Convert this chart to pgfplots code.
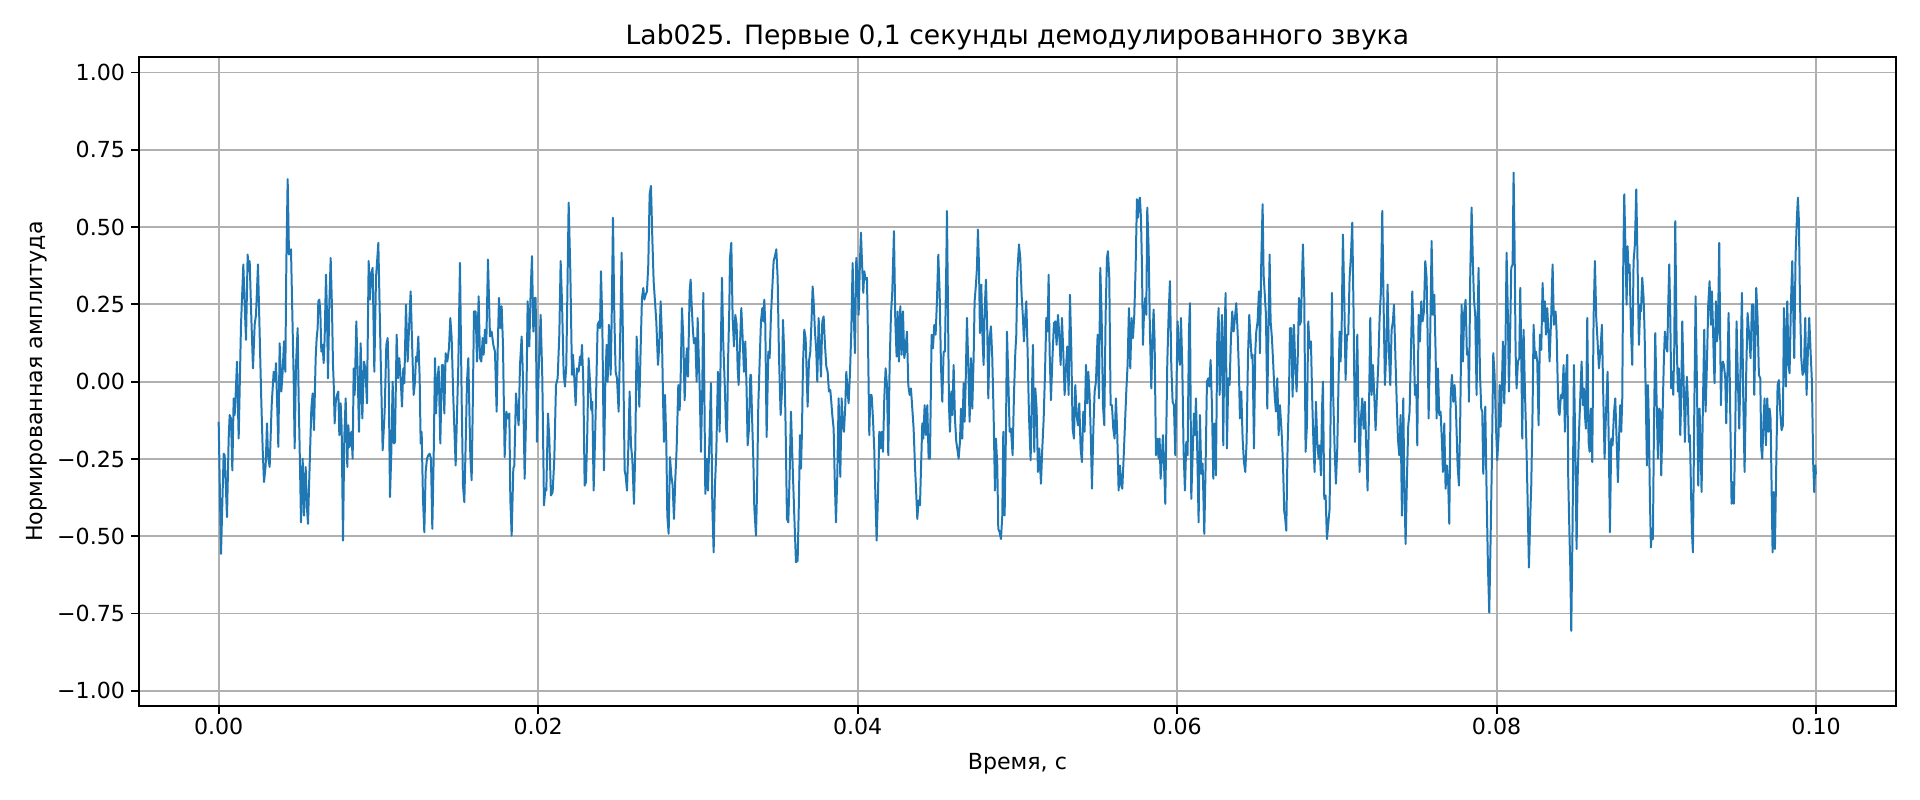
\documentclass[border=0pt]{standalone}
\usepackage{pgfplots}
\pgfplotsset{compat=1.18}
\usepackage{fontspec}
\setmainfont{DejaVu Sans}
\definecolor{mplblue}{RGB}{31,119,180}
\definecolor{gridgray}{HTML}{B0B0B0}
\begin{document}
\begin{tikzpicture}
\begin{axis}[
  scale only axis, width=10.983in, height=4.059in,
  xmin=-5, xmax=105, ymin=-1.05, ymax=1.05,
  xtick={0,20,40,60,80,100},
  xticklabels={0.00,0.02,0.04,0.06,0.08,0.10},
  ytick={-1,-0.75,-0.5,-0.25,0,0.25,0.5,0.75,1},
  yticklabels={−1.00,−0.75,−0.50,−0.25,0.00,0.25,0.50,0.75,1.00},
  tick label style={font=\fontsize{10}{12}\selectfont},
  xticklabel style={anchor=base, yshift=-9pt},
  yticklabel style={anchor=east, xshift=0.8pt},
  grid=major, major grid style={color=gridgray, line width=0.8pt},
  axis line style={line width=0.8pt},
  tick style={black, line width=0.8pt}, tick align=outside, major tick length=3.5pt,
  tick pos=left,
  title={Lab025. Первые 0,1 секунды демодулированного звука},
  title style={font=\fontsize{12}{14}\selectfont, at={(axis description cs:0.5,0.9986)}, anchor=base},
  xlabel={Время, с},
  xlabel style={font=\fontsize{10}{12}\selectfont, at={(axis description cs:0.5,-0.0979)}, anchor=base},
  ylabel={Нормированная амплитуда},
  ylabel style={font=\fontsize{10}{12}\selectfont, at={(axis description cs:-0.0549,0.5)}, anchor=base, rotate=0},
]
\addplot[color=mplblue, line width=0.9pt, line join=round, no markers] table {
t v
0 -0.130
0.146 -0.557
0.313 -0.233
0.376 -0.238
0.522 -0.438
0.626 -0.184
0.689 -0.108
0.772 -0.119
0.856 -0.287
0.939 -0.054
1.002 -0.108
1.064 -0.043
1.148 0.065
1.252 -0.184
1.398 0.184
1.544 0.379
1.628 0.249
1.711 0.135
1.815 0.411
1.878 0.357
1.941 0.390
2.045 0.206
2.149 0.043
2.254 0.184
2.337 0.216
2.462 0.379
2.608 0.065
2.671 -0.065
2.754 -0.216
2.838 -0.325
2.942 -0.271
3.026 -0.135
3.088 -0.238
3.192 -0.276
3.318 -0.076
3.443 0.032
3.526 0
3.589 0.060
3.652 -0.054
3.735 -0.211
3.818 0.124
3.923 -0.032
4.006 0.032
4.090 0.130
4.173 0.032
4.236 0.379
4.319 0.655
4.403 0.411
4.465 0.422
4.528 0.428
4.591 0.271
4.695 0.011
4.757 -0.216
4.841 0.054
4.945 0.173
5.008 -0.054
5.091 -0.271
5.154 -0.455
5.258 -0.249
5.342 -0.433
5.446 -0.276
5.530 -0.411
5.592 -0.460
5.696 -0.271
5.801 -0.087
5.884 -0.038
5.968 -0.157
6.072 0.076
6.135 0.141
6.197 0.173
6.239 0.260
6.302 0.265
6.364 0.227
6.427 0.097
6.510 0.119
6.573 0.060
6.635 0.141
6.719 0.346
6.781 0.216
6.844 0.011
6.927 0.249
7.011 0.400
7.094 0.238
7.157 0.054
7.199 0
7.261 -0.135
7.324 -0.070
7.407 -0.043
7.491 -0.032
7.553 -0.173
7.637 -0.070
7.700 -0.152
7.783 -0.514
7.866 -0.179
7.950 -0.054
8.054 -0.276
8.117 -0.141
8.200 -0.211
8.305 -0.162
8.388 -0.249
8.451 0.043
8.513 -0.043
8.618 0.195
8.701 0.032
8.785 -0.162
8.889 0.124
8.993 -0.119
9.098 0.065
9.181 0.043
9.285 -0.070
9.390 0.390
9.473 0.265
9.536 0.346
9.640 0.368
9.744 0.032
9.849 0.336
9.932 0.400
9.995 0.449
10.120 0.130
10.266 -0.222
10.391 -0.097
10.496 0.119
10.579 0.141
10.642 0.022
10.725 -0.373
10.809 -0.227
10.892 0
10.975 -0.200
11.038 -0.195
11.079 -0.054
11.142 0.152
11.225 0.011
11.309 0.076
11.392 0.011
11.476 -0.081
11.559 0.043
11.622 -0.005
11.726 0.249
11.831 0.065
11.935 0.195
12.018 0.292
12.123 0.097
12.206 -0.043
12.290 0
12.352 0.081
12.415 0.065
12.498 0.146
12.582 0.011
12.644 -0.200
12.707 -0.162
12.790 -0.379
12.874 -0.487
12.957 -0.292
13.041 -0.249
13.124 -0.238
13.208 -0.233
13.291 -0.249
13.375 -0.476
13.458 -0.249
13.542 0.076
13.604 -0.103
13.688 0
13.771 0.049
13.875 -0.200
13.980 0.054
14.042 0.054
14.126 -0.103
14.209 0.092
14.313 0.065
14.418 0.108
14.501 0.206
14.585 0.141
14.689 -0.054
14.835 -0.271
15.002 0.054
15.106 0.384
15.211 -0.054
15.294 -0.336
15.378 -0.390
15.461 -0.206
15.545 0
15.628 0.076
15.753 -0.238
15.837 -0.319
15.899 -0.108
15.983 0.227
16.087 0.227
16.171 0.065
16.275 0.276
16.358 0.076
16.442 0.065
16.525 0.141
16.588 0.087
16.671 0.168
16.755 0.124
16.859 0.395
16.984 0.146
17.089 0.162
17.193 0.119
17.297 0.097
17.402 -0.097
17.464 0.097
17.548 0.271
17.631 0.173
17.715 0.244
17.798 0.119
17.903 -0.244
18.007 -0.097
18.111 -0.119
18.195 -0.103
18.258 -0.379
18.341 -0.498
18.445 -0.281
18.508 -0.271
18.612 -0.038
18.696 -0.097
18.779 -0.141
18.863 0.054
18.967 0.146
19.050 0.011
19.155 -0.314
19.259 -0.076
19.342 0.260
19.447 0.114
19.530 0.292
19.614 0.406
19.697 0.162
19.781 0.271
19.843 0.271
19.927 -0.195
20.031 0.032
20.156 0.216
20.260 0.011
20.365 -0.400
20.448 -0.346
20.511 -0.352
20.615 -0.103
20.699 -0.184
20.803 -0.368
20.907 -0.357
21.012 -0.249
21.116 -0.011
21.220 0.011
21.325 0.152
21.408 0.390
21.492 0.260
21.596 0.027
21.679 -0.016
21.763 0.054
21.846 0.346
21.909 0.579
22.013 0.357
22.118 0.022
22.180 0.087
22.263 0.011
22.347 -0.076
22.430 0.043
22.534 0.032
22.618 0.081
22.680 0.054
22.743 0.119
22.827 0
22.910 -0.336
22.993 -0.325
23.077 -0.162
23.160 0.076
23.244 0
23.327 -0.092
23.390 -0.065
23.473 -0.352
23.557 -0.195
23.640 -0.011
23.724 0.184
23.807 0.195
23.870 0.173
23.932 0.357
24.016 0.195
24.120 -0.287
24.204 0
24.287 0.119
24.350 0
24.433 0.184
24.538 0.022
24.600 0.195
24.684 0.530
24.767 0.216
24.850 0.032
24.934 0.011
25.038 -0.097
25.122 0.108
25.226 0.417
25.310 0.130
25.414 -0.287
25.476 -0.303
25.560 -0.352
25.643 -0.216
25.727 -0.032
25.810 -0.206
25.894 -0.249
25.998 -0.395
26.082 -0.216
26.165 0.146
26.249 0.043
26.332 -0.081
26.416 0.108
26.499 0.271
26.583 0.303
26.645 0.265
26.728 0.281
26.812 0.292
26.895 0.379
26.979 0.606
27.062 0.633
27.146 0.465
27.229 0.325
27.313 0.260
27.396 0.195
27.501 0.054
27.584 0.119
27.668 0.260
27.751 0.141
27.813 -0.043
27.876 -0.195
27.939 -0.043
28.022 -0.195
28.085 -0.433
28.168 -0.492
28.252 -0.244
28.335 -0.303
28.419 -0.336
28.502 -0.444
28.586 -0.314
28.669 -0.216
28.773 -0.011
28.857 -0.092
28.920 0.011
29.003 0.238
29.087 0.141
29.170 -0.060
29.253 0.065
29.316 0.108
29.379 0.016
29.483 0.292
29.546 0.330
29.608 0.249
29.692 0.162
29.754 0.124
29.838 0.141
29.921 0
29.984 0.206
30.047 0.087
30.109 -0.011
30.193 -0.227
30.276 -0.016
30.339 0.287
30.401 -0.011
30.464 -0.363
30.547 -0.249
30.631 -0.352
30.735 -0.162
30.818 -0.005
30.902 -0.400
30.985 -0.552
31.069 -0.336
31.152 -0.227
31.256 0.032
31.361 -0.162
31.423 0.076
31.507 0.336
31.590 0.119
31.674 0
31.757 -0.141
31.820 -0.195
31.882 0.054
31.966 0.238
32.008 0.400
32.091 0.449
32.175 0.206
32.258 0.114
32.342 0.216
32.425 0.184
32.488 0.043
32.550 -0.011
32.634 0.119
32.717 0.238
32.801 0.141
32.884 0.032
32.968 0.130
33.051 -0.032
33.114 -0.206
33.197 -0.152
33.281 0.022
33.322 0.022
33.405 -0.141
33.468 -0.249
33.530 -0.406
33.635 -0.498
33.697 -0.368
33.781 -0.076
33.885 0.097
33.948 0.195
34.031 0.238
34.094 0.195
34.156 0.265
34.219 0.184
34.302 -0.179
34.407 0.097
34.490 0.076
34.574 0.216
34.657 0.303
34.741 0.390
34.824 0.406
34.908 0.428
34.991 0.336
35.074 0.087
35.179 -0.108
35.262 -0.032
35.325 0.200
35.408 0.087
35.492 -0.152
35.575 -0.444
35.659 -0.455
35.742 -0.303
35.825 -0.097
35.930 -0.271
36.034 -0.433
36.139 -0.584
36.243 -0.579
36.326 -0.379
36.389 -0.173
36.452 -0.281
36.514 -0.162
36.577 0.054
36.660 0.168
36.744 0.141
36.806 0.032
36.869 -0.081
36.952 0.065
37.036 0.097
37.119 0.206
37.182 0.308
37.245 0.260
37.328 0.162
37.411 0.097
37.474 0
37.558 0.206
37.641 0.097
37.704 0.016
37.787 0.195
37.871 0.211
37.954 0.119
38.038 0.049
38.121 0.032
38.204 -0.032
38.288 -0.027
38.350 -0.065
38.413 -0.108
38.497 -0.152
38.559 -0.303
38.643 -0.455
38.726 -0.303
38.809 -0.054
38.914 -0.308
38.997 -0.054
39.081 -0.141
39.143 -0.162
39.227 -0.076
39.289 0.032
39.373 -0.032
39.435 -0.070
39.519 0.027
39.602 0.162
39.686 0.384
39.748 0.227
39.832 0.092
39.915 0.400
39.999 0.346
40.062 0.216
40.145 0.390
40.207 0.482
40.270 0.390
40.354 0.287
40.416 0.357
40.500 0.330
40.583 0.336
40.646 0.141
40.729 -0.173
40.792 -0.043
40.875 -0.043
40.959 -0.119
41.042 -0.222
41.126 -0.400
41.188 -0.514
41.272 -0.368
41.355 -0.162
41.439 -0.216
41.501 -0.162
41.585 -0.227
41.668 -0.054
41.751 0.043
41.835 -0.011
41.918 -0.238
42.002 0.054
42.085 0.216
42.169 0.292
42.273 0.487
42.357 0.195
42.440 0.081
42.503 0.227
42.586 0.065
42.670 0.244
42.753 0.087
42.837 0.227
42.920 0.076
43.003 0.108
43.087 0.162
43.170 -0.011
43.254 -0.043
43.337 -0.022
43.421 -0.087
43.504 -0.152
43.588 -0.271
43.650 -0.341
43.734 -0.444
43.817 -0.384
43.901 -0.400
43.984 -0.249
44.047 -0.135
44.109 -0.184
44.193 -0.076
44.276 -0.173
44.360 -0.076
44.443 -0.249
44.526 -0.249
44.631 0.152
44.714 0.108
44.798 0.184
44.881 0.152
44.964 0.260
45.048 0.411
45.131 0.292
45.215 0.054
45.298 -0.065
45.382 0.097
45.465 0.097
45.549 0.379
45.590 0.552
45.653 0.249
45.716 -0.076
45.778 -0.162
45.862 -0.032
45.924 -0.108
46.008 0.054
46.091 -0.119
46.175 -0.195
46.237 -0.216
46.321 -0.249
46.404 -0.195
46.467 -0.087
46.550 -0.184
46.634 -0.005
46.696 -0.130
46.759 -0.011
46.843 0.206
46.926 0.054
47.009 -0.130
47.093 0.076
47.176 -0.087
47.260 0.076
47.322 0.260
47.406 0.314
47.468 0.368
47.531 0.492
47.594 0.379
47.656 0.157
47.740 0.314
47.823 0.130
47.886 0.054
47.948 0.227
48.032 0.330
48.115 0.162
48.178 -0.054
48.261 0.141
48.345 0.179
48.428 0.076
48.512 -0.108
48.595 -0.352
48.658 -0.184
48.741 -0.271
48.804 -0.476
48.887 -0.487
48.971 -0.509
49.054 -0.433
49.117 -0.162
49.200 -0.433
49.284 -0.162
49.346 0.162
49.430 0.011
49.513 -0.162
49.597 -0.152
49.701 -0.238
49.785 -0.043
49.868 0.092
49.931 0.152
49.993 0.346
50.098 0.444
50.181 0.400
50.264 0.281
50.348 0.206
50.411 0.130
50.473 0.195
50.557 0.260
50.640 0.097
50.724 -0.108
50.828 -0.254
50.911 -0.032
50.974 0.119
51.057 -0.227
51.120 -0.022
51.203 -0.087
51.287 -0.292
51.370 -0.216
51.475 -0.330
51.558 -0.216
51.642 -0.124
51.725 0.022
51.809 0.206
51.892 0.162
51.955 0.346
52.017 0.097
52.101 -0.060
52.184 0.065
52.288 0.189
52.372 0.195
52.455 0.119
52.539 0.216
52.622 0.152
52.706 0.054
52.789 0.206
52.873 0.097
52.956 -0.043
53.040 0.043
53.123 0.114
53.207 -0.043
53.290 0.281
53.373 0.108
53.457 -0.152
53.540 -0.184
53.624 -0.011
53.707 -0.108
53.791 -0.141
53.874 -0.070
53.958 -0.216
54.041 -0.260
54.125 -0.097
54.208 -0.162
54.292 0.054
54.375 -0.070
54.438 0.032
54.521 -0.043
54.605 -0.195
54.667 -0.346
54.751 -0.162
54.834 -0.032
54.918 0
55.022 0.152
55.105 -0.054
55.189 0.368
55.272 0.216
55.356 -0.076
55.439 -0.141
55.523 0.216
55.606 0.400
55.668 0.422
55.752 0.336
55.835 -0.076
55.919 -0.076
56.002 -0.152
56.086 -0.184
56.169 -0.054
56.253 -0.173
56.336 -0.352
56.419 -0.271
56.503 -0.336
56.566 -0.346
56.649 -0.249
56.732 -0.141
56.816 -0.032
56.899 0.054
56.983 0.238
57.066 0.043
57.150 0.206
57.233 0.141
57.317 0.216
57.400 0.368
57.484 0.590
57.546 0.530
57.609 0.584
57.671 0.595
57.734 0.530
57.797 0.379
57.859 0.119
57.922 0.216
58.005 0.271
58.068 0.216
58.130 0.563
58.214 0.433
58.297 0.162
58.381 -0.022
58.464 0.152
58.527 0.233
58.590 0.130
58.673 -0.238
58.756 -0.184
58.840 -0.249
58.903 -0.184
58.965 -0.314
59.049 -0.238
59.111 -0.173
59.195 -0.292
59.257 -0.395
59.320 -0.162
59.383 0.060
59.466 0.216
59.549 0.325
59.633 0.054
59.716 -0.065
59.800 -0.076
59.883 -0.238
59.967 0.011
60.029 0.195
60.113 0.076
60.175 0.054
60.238 0.206
60.321 0.054
60.405 -0.227
60.488 -0.352
60.572 -0.195
60.655 -0.238
60.739 0.162
60.801 0.254
60.885 -0.379
60.968 -0.238
61.052 -0.103
61.114 -0.173
61.177 -0.054
61.260 -0.227
61.344 -0.455
61.427 -0.108
61.511 -0.298
61.594 -0.265
61.699 -0.492
61.782 -0.271
61.866 0
61.949 0.011
62.012 -0.016
62.095 0.070
62.178 -0.076
62.262 -0.314
62.345 -0.135
62.429 -0.303
62.512 0.141
62.596 0.238
62.658 -0.043
62.721 0.054
62.804 0.216
62.888 -0.206
62.950 0.119
63.034 0.287
63.117 -0.216
63.201 0.011
63.284 -0.011
63.368 0.141
63.451 0.227
63.535 0.162
63.618 0.206
63.701 0.254
63.785 0.162
63.868 0.032
63.931 -0.119
64.015 -0.032
64.098 -0.184
64.181 -0.260
64.265 -0.292
64.348 -0.195
64.432 0.076
64.515 0.216
64.599 0.130
64.662 0.076
64.724 0.087
64.808 -0.216
64.891 0.097
64.954 0.162
65.037 0.195
65.120 0.292
65.183 0.092
65.267 0.390
65.350 0.574
65.413 0.346
65.475 0.292
65.559 0.216
65.642 -0.087
65.726 0.206
65.788 0.411
65.851 0.195
65.934 0.141
66.018 0.054
66.101 -0.043
66.185 -0.097
66.268 0.011
66.352 -0.173
66.435 -0.076
66.539 -0.162
66.623 -0.260
66.706 -0.422
66.748 -0.433
66.831 -0.482
66.915 -0.206
66.998 -0.054
67.061 0.173
67.144 0.173
67.228 -0.049
67.311 0.184
67.395 0.054
67.478 -0.032
67.561 0.097
67.624 0.271
67.687 0.184
67.749 0.195
67.812 0.325
67.874 0.444
67.958 0.271
68.041 -0.227
68.125 -0.141
68.208 0.195
68.292 0.108
68.375 0.130
68.459 -0.065
68.542 -0.216
68.605 -0.292
68.688 -0.065
68.772 -0.195
68.855 -0.249
68.918 -0.206
69.001 -0.303
69.064 -0.097
69.126 0
69.210 -0.379
69.293 -0.368
69.377 -0.509
69.460 -0.460
69.544 -0.411
69.606 -0.108
69.690 0.287
69.773 -0.054
69.857 -0.216
69.940 -0.330
70.023 -0.216
70.107 0.011
70.170 0.162
70.232 0.065
70.295 0.162
70.378 0.476
70.462 0.271
70.545 0.005
70.629 0.152
70.712 0.152
70.795 0.336
70.879 0.406
70.962 0.514
71.046 0.216
71.129 -0.195
71.192 -0.054
71.276 0.152
71.338 -0.054
71.422 -0.292
71.505 -0.119
71.588 -0.054
71.672 -0.152
71.755 -0.065
71.839 -0.216
71.922 -0.352
72.006 -0.108
72.089 0.206
72.173 -0.043
72.256 0.054
72.340 -0.043
72.423 -0.157
72.507 -0.043
72.590 0.054
72.674 0.206
72.757 0.292
72.841 0.552
72.924 0.249
73.007 -0.011
73.091 0.097
73.174 0.314
73.258 0.097
73.341 -0.011
73.425 0.168
73.508 0.195
73.571 0.249
73.654 0.097
73.738 -0.054
73.821 -0.184
73.905 -0.238
73.988 -0.108
74.072 -0.433
74.155 -0.054
74.218 -0.325
74.301 -0.525
74.385 -0.314
74.468 -0.141
74.552 -0.097
74.635 0.097
74.719 0.292
74.802 0.141
74.886 -0.043
74.969 -0.011
75.032 -0.206
75.115 0.216
75.199 0.130
75.282 0.260
75.366 0.195
75.449 0.227
75.532 0.390
75.616 0.336
75.679 0.152
75.741 -0.119
75.846 0.162
75.929 0.455
76.012 0.216
76.096 0.281
76.179 0.097
76.242 -0.119
76.326 0.043
76.409 -0.108
76.492 -0.097
76.576 -0.195
76.639 -0.292
76.722 -0.135
76.805 -0.346
76.889 -0.271
76.972 -0.336
77.035 -0.460
77.118 -0.054
77.202 0.022
77.285 -0.065
77.369 -0.011
77.452 -0.087
77.557 -0.271
77.640 -0.336
77.724 -0.108
77.807 0.249
77.890 0.065
77.973 0.227
78.057 0.265
78.140 0.087
78.224 0.097
78.265 -0.065
78.349 0.346
78.432 0.563
78.516 0.379
78.578 0.271
78.662 0.211
78.745 -0.043
78.808 0.206
78.870 0.368
78.954 0.032
79.037 -0.087
79.100 -0.097
79.163 -0.298
79.225 -0.184
79.288 -0.081
79.371 -0.357
79.455 -0.595
79.538 -0.747
79.622 -0.509
79.705 -0.249
79.789 0.092
79.872 0.022
79.956 -0.141
80.039 -0.254
80.123 -0.173
80.185 -0.011
80.248 -0.146
80.331 -0.011
80.394 0.130
80.477 -0.070
80.540 0.054
80.623 0.417
80.707 0.206
80.770 -0.032
80.853 0.173
80.916 0.368
80.999 0.379
81.062 0.676
81.124 0.433
81.187 0.097
81.249 -0.022
81.333 0.065
81.416 0.076
81.479 0.303
81.541 0.097
81.604 -0.184
81.688 0.168
81.771 -0.032
81.854 -0.184
81.938 -0.379
82.021 -0.601
82.105 -0.433
82.167 -0.336
82.251 -0.087
82.313 0.184
82.397 0.076
82.459 0.097
82.543 0.065
82.626 -0.141
82.710 0.152
82.793 0.103
82.877 0.319
82.960 0.195
83.023 0.260
83.085 0.152
83.169 0.238
83.252 0.152
83.315 0.065
83.419 0.216
83.503 0.379
83.586 0.184
83.690 0.227
83.753 0.162
83.816 0.011
83.878 -0.097
83.941 -0.108
84.024 -0.043
84.108 -0.054
84.191 0.054
84.275 -0.162
84.358 0.032
84.421 0.087
84.483 -0.314
84.546 -0.465
84.608 -0.595
84.671 -0.806
84.754 -0.465
84.838 0.054
84.921 -0.195
85.005 -0.541
85.068 -0.314
85.151 -0.173
85.234 -0.054
85.318 0.065
85.401 -0.076
85.464 -0.022
85.527 -0.108
85.589 -0.152
85.673 0.206
85.756 -0.195
85.819 -0.227
85.902 -0.087
85.985 -0.260
86.069 0.206
86.152 0.390
86.236 0.206
86.319 0.130
86.403 0.043
86.507 0.108
86.591 0.184
86.674 -0.043
86.758 -0.249
86.841 -0.108
86.945 0.032
87.029 -0.227
87.091 -0.487
87.175 -0.184
87.258 -0.206
87.342 -0.103
87.425 -0.054
87.509 -0.184
87.592 -0.325
87.676 -0.162
87.738 -0.076
87.801 -0.162
87.864 -0.054
87.926 0.379
87.989 0.606
88.072 0.411
88.135 0.249
88.197 0.438
88.260 0.352
88.323 0.379
88.406 0.173
88.489 0.054
88.573 0.390
88.656 0.444
88.740 0.622
88.823 0.379
88.907 0.119
88.990 0.249
89.032 0.227
89.115 0.336
89.199 0.271
89.261 0.162
89.345 -0.076
89.407 -0.271
89.470 -0.011
89.532 -0.141
89.595 -0.379
89.658 -0.536
89.720 -0.476
89.783 -0.509
89.845 -0.162
89.929 0.157
90.012 -0.054
90.096 -0.249
90.179 -0.087
90.242 -0.097
90.304 -0.303
90.388 -0.108
90.471 0.076
90.534 0.162
90.597 0.119
90.680 0.097
90.743 0.249
90.805 0.379
90.868 0.216
90.930 -0.022
90.993 0.032
91.056 -0.043
91.118 0.108
91.181 0.519
91.264 0.141
91.348 -0.032
91.410 0.043
91.494 -0.173
91.556 -0.054
91.619 0.195
91.702 0.011
91.786 -0.195
91.849 -0.054
91.911 0.016
91.974 -0.065
92.036 -0.195
92.099 -0.173
92.162 -0.336
92.224 -0.487
92.287 -0.552
92.370 -0.108
92.454 0.276
92.537 0
92.621 -0.336
92.704 -0.087
92.788 -0.249
92.829 -0.357
92.913 -0.076
92.996 0.168
93.080 -0.097
93.163 0.054
93.247 0.249
93.330 0.325
93.414 0.184
93.476 0.292
93.539 0.184
93.601 0.054
93.643 -0.005
93.726 0.260
93.789 0.130
93.852 0.162
93.935 0.449
94.039 -0.076
94.102 0.054
94.165 0.065
94.227 0.054
94.311 0.011
94.373 -0.135
94.457 0.043
94.519 0.222
94.582 0.054
94.645 -0.184
94.707 -0.395
94.770 -0.325
94.853 -0.395
94.937 -0.162
95.020 0.195
95.104 0
95.187 -0.152
95.271 0.054
95.354 0.287
95.438 -0.054
95.521 -0.292
95.625 0.032
95.709 0.222
95.792 0.162
95.896 0.076
95.980 0.249
96.063 0.249
96.126 -0.043
96.209 0.162
96.251 0.303
96.335 0.206
96.418 0.022
96.502 0.011
96.565 -0.216
96.627 -0.249
96.711 -0.119
96.773 -0.054
96.856 -0.206
96.940 -0.054
97.023 -0.162
97.086 -0.087
97.149 -0.119
97.211 -0.336
97.274 -0.552
97.336 -0.357
97.420 -0.541
97.503 -0.271
97.587 -0.011
97.670 0.005
97.754 -0.097
97.837 -0.157
97.921 -0.141
97.983 0.238
98.046 0.141
98.109 -0.016
98.192 0.260
98.276 0.054
98.338 0.027
98.422 0.249
98.505 0.390
98.568 0.227
98.630 0.076
98.714 0.411
98.797 0.530
98.860 0.595
98.922 0.519
98.985 0.271
99.069 0.076
99.152 0.022
99.235 0.032
99.319 0.206
99.402 -0.043
99.486 0.097
99.569 0.206
99.653 0.097
99.736 0
99.820 -0.271
99.882 -0.357
99.945 -0.271
99.990 -0.300
};
\end{axis}
\pgfresetboundingbox
\path[use as bounding box] (-0.8675in,-0.585in) rectangle (11.133in,4.415in);
\end{tikzpicture}
\end{document}
